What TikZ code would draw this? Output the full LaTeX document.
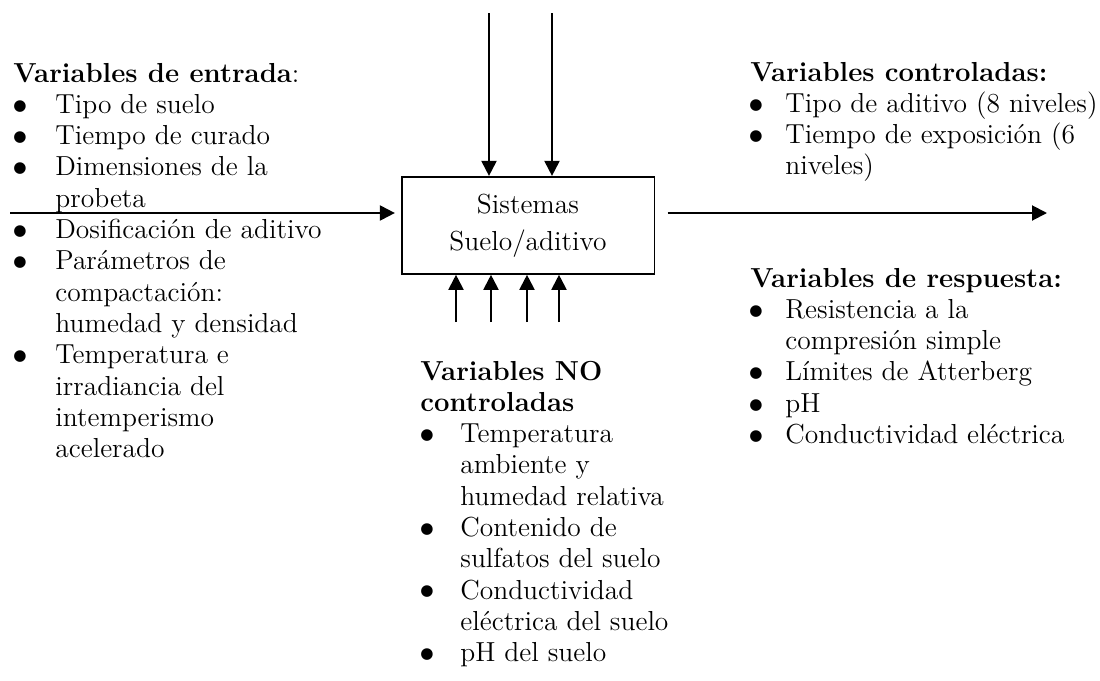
\documentclass[tikz,border=0pt]{standalone}
\usepackage{fontspec}
\newfontfamily\dejavu{DejaVu Sans}
\usetikzlibrary{arrows.meta}
\newcommand\bigbul{{\dejavu\fontsize{7.6}{9}\selectfont ●}}
\begin{document}
\begin{tikzpicture}[x=0.5pt,y=-0.5pt,
  txt/.style={anchor=base west, inner sep=0pt, font=\fontsize{13.75}{15.65}\selectfont},
  ttl/.style={anchor=base west, inner sep=0pt, font=\fontsize{13.75}{15.65}\selectfont\bfseries},
  bul/.style={anchor=base, inner sep=0pt, yshift=1.6pt},
  sysbox/.style={draw, line width=0.8pt, minimum width=126.3pt, minimum height=48.65pt, inner sep=0pt,
    align=center, font=\fontsize{13.75}{18.5}\selectfont},
  arr/.style={line width=1pt, -{Triangle[width=7.5pt,length=7.5pt]}}]
\useasboundingbox (0,0) rectangle (1100,681);

% central box
\node[sysbox] (sys) at (528,225.35) {Sistemas\\Suelo/aditivo};

% connectors
\coordinate (t1) at (489,13);
\coordinate (t2) at (552,13);
\coordinate (b1) at (456,322);
\coordinate (b2) at (491,322);
\coordinate (b3) at (527,322);
\coordinate (b4) at (559,322);
\coordinate (lin) at (10,213);
\coordinate (rout) at (1047,213);
\draw[arr] (t1) -- (t1 |- sys.north);
\draw[arr] (t2) -- (t2 |- sys.north);
\draw[arr] (b1) -- (b1 |- sys.south);
\draw[arr] (b2) -- (b2 |- sys.south);
\draw[arr] (b3) -- (b3 |- sys.south);
\draw[arr] (b4) -- (b4 |- sys.south);
\draw[arr, shorten >=3pt] (lin) -- (lin -| sys.west);
\draw[arr, shorten <=6.3pt] (rout -| sys.east) -- (rout);

% left block
\node[ttl] (l0) at (13,82) {Variables de entrada\mdseries:};
\node[bul] (lb1) at (20,113.3) {\bigbul};
\node[txt] (l1) at (55,113.3) {Tipo de suelo};
\node[bul] (lb2) at (20,144.6) {\bigbul};
\node[txt] (l2) at (55,144.6) {Tiempo de curado};
\node[bul] (lb3) at (20,175.9) {\bigbul};
\node[txt] (l3) at (55,175.9) {Dimensiones de la};
\node[txt] (l4) at (55,207.2) {probeta};
\node[bul] (lb5) at (20,238.5) {\bigbul};
\node[txt] (l5) at (55,238.5) {Dosificación de aditivo};
\node[bul] (lb6) at (20,269.8) {\bigbul};
\node[txt] (l6) at (55,269.8) {Parámetros de};
\node[txt] (l7) at (55,301.1) {compactación:};
\node[txt] (l8) at (55,332.4) {humedad y densidad};
\node[bul] (lb9) at (20,363.7) {\bigbul};
\node[txt] (l9) at (55,363.7) {Temperatura e};
\node[txt] (l10) at (55,395) {irradiancia del};
\node[txt] (l11) at (55,426.3) {intemperismo};
\node[txt] (l12) at (55,457.6) {acelerado};

% right top block
\node[ttl] (c0) at (750,81) {Variables controladas:};
\node[bul] (cb1) at (756,112.3) {\bigbul};
\node[txt] (c1) at (785,112.3) {Tipo de aditivo (8 niveles)};
\node[bul] (cb2) at (756,143.6) {\bigbul};
\node[txt] (c2) at (785,143.6) {Tiempo de exposición (6};
\node[txt] (c3) at (785,174.9) {niveles)};

% right bottom block
\node[ttl] (r0) at (750,287) {Variables de respuesta:};
\node[bul] (rb1) at (756,318.3) {\bigbul};
\node[txt] (r1) at (785,318.3) {Resistencia a la};
\node[txt] (r2) at (785,349.6) {compresión simple};
\node[bul] (rb3) at (756,380.9) {\bigbul};
\node[txt] (r3) at (785,380.9) {Límites de Atterberg};
\node[bul] (rb4) at (756,412.2) {\bigbul};
\node[txt] (r4) at (785,412.2) {pH};
\node[bul] (rb5) at (756,443.5) {\bigbul};
\node[txt] (r5) at (785,443.5) {Conductividad eléctrica};

% middle block
\node[ttl] (m0) at (420,380) {Variables NO};
\node[ttl] (m1) at (420,411.3) {controladas};
\node[bul] (mb2) at (427,442.6) {\bigbul};
\node[txt] (m2) at (460,442.6) {Temperatura};
\node[txt] (m3) at (460,473.9) {ambiente y};
\node[txt] (m4) at (460,505.2) {humedad relativa};
\node[bul] (mb5) at (427,536.5) {\bigbul};
\node[txt] (m5) at (460,536.5) {Contenido de};
\node[txt] (m6) at (460,567.8) {sulfatos del suelo};
\node[bul] (mb7) at (427,599.1) {\bigbul};
\node[txt] (m7) at (460,599.1) {Conductividad};
\node[txt] (m8) at (460,630.4) {eléctrica del suelo};
\node[bul] (mb9) at (427,661.7) {\bigbul};
\node[txt] (m9) at (460,661.7) {pH del suelo};
\end{tikzpicture}
\end{document}
